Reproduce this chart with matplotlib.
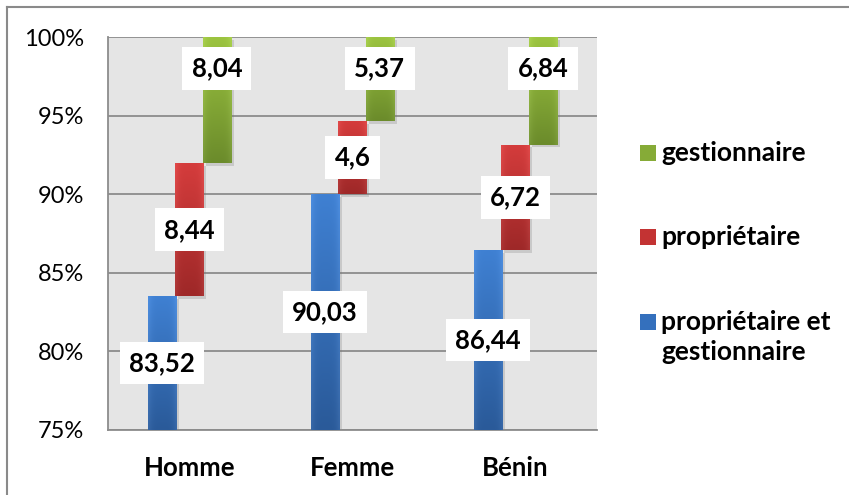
import numpy as np
import matplotlib
matplotlib.use("Agg")
import matplotlib.pyplot as plt
from matplotlib.patches import Rectangle
from matplotlib.lines import Line2D
import matplotlib.patheffects as pe

# --- data -------------------------------------------------------------
categories = ["Homme", "Femme", "Bénin"]
prop_et_gest = [83.52, 90.03, 86.44]
proprietaire = [8.44, 4.60, 6.72]
gestionnaire = [8.04, 5.37, 6.84]
series_values = [prop_et_gest, proprietaire, gestionnaire]
series_names = ["propriétaire et gestionnaire", "propriétaire", "gestionnaire"]
value_labels = [["83,52", "90,03", "86,44"],
                ["8,44", "4,6", "6,72"],
                ["8,04", "5,37", "6,84"]]
y_ticks = [75, 80, 85, 90, 95, 100]
y_tick_labels = ["75%", "80%", "85%", "90%", "95%", "100%"]

# --- style ------------------------------------------------------------
plt.rcParams["font.family"] = ["Lato", "DejaVu Sans"]
top_colors = ["#3f80d2", "#d43c3c", "#9cc440"]
bottom_colors = ["#2a5a99", "#9e2828", "#6b8b2b"]
legend_colors = ["#3470bd", "#c33333", "#86ab37"]
offsets = [-0.168, 0.0, 0.168]
bar_w = 0.172
grid_col = "#8c8c8c"

W, H = 849, 495
fig = plt.figure(figsize=(W / 100, H / 100), dpi=100)
fig.patch.set_facecolor("white")
ax = fig.add_axes([108 / W, 1 - 430 / H, (597 - 108) / W, (430 - 37) / H])
ax.set_facecolor("#e5e5e5")
ax.set_axisbelow(True)

x = np.arange(len(categories))
ymin, ymax = y_ticks[0], y_ticks[-1]


def hex_rgb(h):
    h = h.lstrip("#")
    return np.array([int(h[i:i + 2], 16) / 255 for i in (0, 2, 4)])


bottom = np.zeros(len(categories))
for i, vals in enumerate(series_values):
    vals = np.array(vals)
    bars = ax.bar(x + offsets[i], vals, width=bar_w, bottom=bottom,
                  color=legend_colors[i], linewidth=0, zorder=2)
    for b in bars:
        b.set_path_effects([pe.SimplePatchShadow(offset=(2, -2), shadow_rgbFace="#777777", alpha=0.25),
                            pe.Normal()])
        x0 = b.get_x()
        x1 = x0 + b.get_width()
        y0 = max(b.get_y(), ymin)
        y1 = min(b.get_y() + b.get_height(), ymax)
        t = np.linspace(0, 1, 64)[:, None]
        col = hex_rgb(bottom_colors[i]) * (1 - t) + hex_rgb(top_colors[i]) * t
        # slight lighter rim on the sides
        u = np.linspace(-1, 1, 16)[None, :]
        rim = 0.05 * (np.abs(u) ** 4)
        img = np.clip(col[:, None, :] + rim[..., None], 0, 1)
        im = ax.imshow(img, extent=(x0, x1, y0, y1), origin="lower",
                       aspect="auto", zorder=3, interpolation="bilinear")
        im.set_clip_path(b)
    tops = bottom + vals
    for j in range(len(categories)):
        lo = max(bottom[j], ymin)
        hi = min(tops[j], ymax)
        ly = (lo + hi) / 2
        if i == len(series_values) - 1:
            ly = 98.0
        ax.text(x[j] + offsets[i], ly, value_labels[i][j], ha="center", va="center",
                fontsize=18.5, fontweight="bold", color="black", zorder=5,
                bbox=dict(boxstyle="square,pad=0.36", facecolor="white", edgecolor="none"))
    bottom = tops

ax.set_xlim(-0.5, len(categories) - 0.5)
ax.set_ylim(ymin, ymax)
ax.set_yticks(y_ticks)
ax.set_yticklabels(y_tick_labels, fontsize=17)
ax.set_xticks(x)
ax.set_xticklabels(categories, fontsize=18.5, fontweight="bold")
ax.tick_params(axis="y", length=0, pad=17)
ax.tick_params(axis="x", length=0, pad=19)
ax.yaxis.grid(True, color=grid_col, linewidth=1.3)
for s in ["top", "right"]:
    ax.spines[s].set_visible(False)
for s in ["left", "bottom"]:
    ax.spines[s].set_color(grid_col)
    ax.spines[s].set_linewidth(1.3)

# --- legend -----------------------------------------------------------
legend_rows = [(2, 153, ["gestionnaire"]),
               (1, 237, ["propriétaire"]),
               (0, 322, ["propriétaire et", "gestionnaire"])]
for idx, yc, lines in legend_rows:
    fig.add_artist(Rectangle((640 / W, 1 - (yc + 8) / H), 16 / W, 16 / H,
                             transform=fig.transFigure, facecolor=legend_colors[idx],
                             edgecolor="none"))
    for k, line in enumerate(lines):
        fig.text(661 / W, 1 - (yc + 30 * k) / H, line, ha="left", va="center",
                 fontsize=19, fontweight="bold", color="black")

# --- frame ------------------------------------------------------------
fig.add_artist(Line2D([7 / W, 1], [1 - 7 / H, 1 - 7 / H], transform=fig.transFigure,
                      color="#8a8a8a", linewidth=1.5))
fig.add_artist(Line2D([7 / W, 7 / W], [0, 1 - 7 / H], transform=fig.transFigure,
                      color="#8a8a8a", linewidth=1.5))

fig.savefig("out.png", dpi=100)
